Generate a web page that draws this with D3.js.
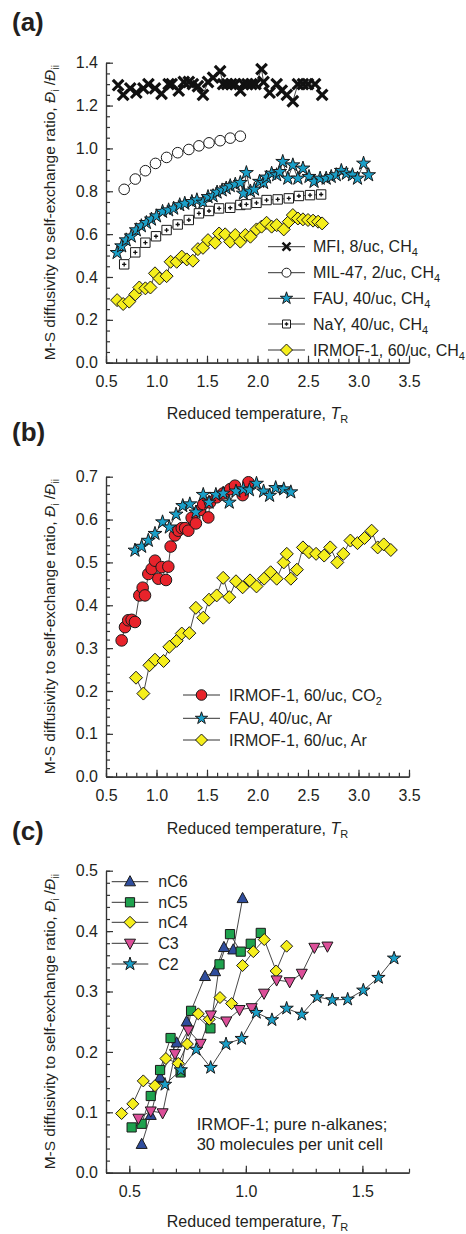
<!DOCTYPE html>
<html><head><meta charset="utf-8">
<script src="https://cdn.jsdelivr.net/npm/d3@7"></script>
<style>
body{margin:0;background:#fff}
svg{display:block}
text{font-family:"Liberation Sans",Arial,sans-serif;fill:#231f20}
</style>
</head><body>
<svg id="chart" width="466" height="1234"></svg>
<script>
// ---------- Panel (a) data ----------
const mfiX = [0.62,0.67,0.74,0.80,0.87,0.92,0.985,1.05,1.12,1.15,1.22,1.27,1.32,1.36,1.41,1.46,1.51,1.56,1.63,1.66,1.70,1.74,1.78,1.83,1.86,1.90,1.94,1.98,2.04,2.06,2.12,2.19,2.24,2.29,2.35,2.40,2.45,2.50,2.57,2.64];
const mfiY = [1.295,1.25,1.28,1.26,1.28,1.30,1.28,1.255,1.30,1.30,1.27,1.31,1.31,1.30,1.29,1.25,1.31,1.33,1.36,1.30,1.30,1.30,1.30,1.27,1.30,1.30,1.30,1.30,1.37,1.31,1.26,1.30,1.27,1.25,1.22,1.30,1.30,1.30,1.30,1.25];
const milX = [0.68,0.79,0.89,0.99,1.10,1.21,1.32,1.42,1.52,1.63,1.73,1.83];
const milY = [0.809,0.857,0.896,0.93,0.958,0.98,0.995,1.012,1.026,1.036,1.048,1.057];
const fauX = [0.61,0.655,0.70,0.75,0.80,0.85,0.90,0.95,1.00,1.06,1.12,1.17,1.23,1.28,1.35,1.40,1.46,1.51,1.56,1.60,1.65,1.69,1.73,1.78,1.83,1.86,1.89,1.93,1.97,2.02,2.06,2.09,2.14,2.19,2.22,2.25,2.30,2.35,2.40,2.45,2.51,2.56,2.62,2.68,2.73,2.78,2.83,2.88,2.94,2.99,3.05,3.10];
const fauY = [0.513,0.544,0.572,0.59,0.619,0.638,0.653,0.669,0.684,0.705,0.712,0.72,0.736,0.743,0.751,0.759,0.748,0.774,0.778,0.795,0.805,0.814,0.825,0.832,0.84,0.79,0.886,0.80,0.809,0.845,0.84,0.865,0.883,0.876,0.891,0.938,0.86,0.922,0.86,0.907,0.868,0.845,0.86,0.86,0.868,0.876,0.896,0.883,0.876,0.86,0.93,0.876];
const nayX = [0.68,0.79,0.89,0.995,1.10,1.21,1.32,1.42,1.52,1.62,1.73,1.83,1.89,1.99,2.09,2.20,2.31,2.41,2.52,2.63];
const nayY = [0.459,0.515,0.56,0.59,0.619,0.645,0.666,0.697,0.708,0.72,0.723,0.736,0.739,0.746,0.759,0.762,0.767,0.778,0.782,0.785];
const irmCH4X = [0.61,0.67,0.73,0.79,0.83,0.89,0.94,0.985,1.03,1.10,1.14,1.20,1.25,1.30,1.36,1.41,1.46,1.51,1.58,1.62,1.68,1.73,1.78,1.83,1.88,1.93,1.99,2.04,2.09,2.14,2.19,2.26,2.31,2.35,2.40,2.45,2.50,2.55,2.60,2.64];
const irmCH4Y = [0.292,0.274,0.285,0.319,0.351,0.347,0.351,0.417,0.393,0.404,0.471,0.471,0.495,0.482,0.476,0.53,0.536,0.572,0.56,0.603,0.599,0.565,0.596,0.565,0.596,0.588,0.622,0.635,0.653,0.635,0.642,0.622,0.658,0.689,0.673,0.669,0.666,0.663,0.658,0.65];

// ---------- Panel (b) data ----------
const co2X = [0.655,0.688,0.72,0.754,0.787,0.83,0.863,0.886,0.919,0.952,0.985,1.018,1.051,1.094,1.117,1.14,1.183,1.216,1.25,1.283,1.315,1.348,1.39,1.43,1.463,1.513,1.53,1.596,1.66,1.73,1.777,1.853,1.91];
const co2Y = [0.318,0.349,0.365,0.366,0.361,0.423,0.441,0.423,0.473,0.485,0.504,0.462,0.489,0.459,0.49,0.537,0.563,0.574,0.58,0.58,0.574,0.604,0.591,0.622,0.636,0.605,0.64,0.652,0.661,0.671,0.679,0.657,0.687];
const fauArX = [0.787,0.853,0.919,0.985,1.06,1.127,1.194,1.26,1.33,1.39,1.463,1.52,1.588,1.66,1.72,1.787,1.86,1.92,1.99,2.06,2.12,2.18,2.26,2.33];
const fauArY = [0.528,0.537,0.551,0.567,0.594,0.582,0.612,0.632,0.636,0.617,0.658,0.64,0.658,0.661,0.64,0.666,0.671,0.669,0.684,0.666,0.656,0.674,0.671,0.664];
const irmArX = [0.797,0.87,0.93,0.985,1.07,1.127,1.20,1.25,1.325,1.39,1.463,1.52,1.596,1.66,1.72,1.787,1.853,1.926,1.99,2.065,2.13,2.19,2.26,2.29,2.33,2.39,2.45,2.51,2.58,2.66,2.72,2.79,2.85,2.92,2.99,3.06,3.13,3.19,3.25,3.32];
const irmArY = [0.231,0.194,0.26,0.273,0.27,0.303,0.317,0.334,0.335,0.394,0.371,0.413,0.423,0.464,0.419,0.456,0.442,0.458,0.444,0.462,0.477,0.462,0.50,0.52,0.462,0.483,0.535,0.524,0.52,0.516,0.535,0.50,0.52,0.551,0.545,0.557,0.574,0.535,0.542,0.529];

// ---------- Panel (c) data ----------
const nc6X = [0.553,0.592,0.632,0.703,0.746,0.825,0.868,0.906,0.946,0.986];
const nc6Y = [0.047,0.095,0.158,0.215,0.25,0.325,0.333,0.373,0.369,0.454];
const nc5X = [0.51,0.553,0.592,0.632,0.677,0.72,0.765,0.848,0.887,0.932,0.978,1.021,1.064];
const nc5Y = [0.075,0.081,0.127,0.17,0.223,0.166,0.268,0.239,0.345,0.395,0.366,0.379,0.397];
const nc4X = [0.467,0.515,0.56,0.61,0.657,0.71,0.749,0.796,0.843,0.889,0.939,0.986,1.032,1.079,1.13,1.175];
const nc4Y = [0.098,0.114,0.152,0.144,0.189,0.181,0.213,0.263,0.254,0.29,0.28,0.343,0.366,0.386,0.334,0.375];
const c3X = [0.539,0.592,0.643,0.696,0.753,0.806,0.85,0.916,0.973,1.025,1.078,1.132,1.188,1.24,1.294,1.35];
const c3Y = [0.09,0.102,0.099,0.197,0.236,0.214,0.261,0.251,0.27,0.273,0.297,0.319,0.316,0.33,0.373,0.375];
const c2X = [0.653,0.721,0.787,0.849,0.915,0.982,1.045,1.112,1.175,1.24,1.306,1.371,1.437,1.504,1.569,1.636];
const c2Y = [0.146,0.17,0.204,0.174,0.213,0.222,0.265,0.253,0.272,0.262,0.291,0.286,0.287,0.302,0.323,0.355];

// ---------- Ticks ----------
const aYTicks = [0.0,0.2,0.4,0.6,0.8,1.0,1.2,1.4];
const abXTicks = [0.5,1.0,1.5,2.0,2.5,3.0,3.5];
const bYTicks = [0.0,0.1,0.2,0.3,0.4,0.5,0.6,0.7];
const cYTicks = [0.0,0.1,0.2,0.3,0.4,0.5];
const cXTicks = [0.5,1.0,1.5];

// ---------- Labels ----------
const panelLabels = ["(a)","(b)","(c)"];
const xTitle = "Reduced temperature, ";
const yTitle = "M-S diffusivity to self-exchange ratio, ";
const noteLines = ["IRMOF-1; pure n-alkanes;","30 molecules per unit cell"];

// ---------- Rendering ----------
const svg = d3.select("#chart");
const FAU_C = "#1a9fc8", YEL = "#f5ee1c", RED = "#e8232b", BLU = "#2f4d9d", GRN = "#1ea24e", PNK = "#dc4f99";

function zip(xs, ys){ return xs.map((v,i)=>[v, ys[i]]); }
function range(a,b,s){ const out=[]; for(let v=a; v<=b+1e-9; v+=s) out.push(+v.toFixed(4)); return out; }

function markerPath(type, s){
  switch(type){
    case "x": return `M${-s},${-s}L${s},${s}M${-s},${s}L${s},${-s}`;
    case "circle": return d3.symbol(d3.symbolCircle, Math.PI*s*s)();
    case "star": return d3.symbol(d3.symbolStar, s*s/0.8908130915)();
    case "square": return `M${-s},${-s}H${s}V${s}H${-s}Z`;
    case "squarePlus": return `M${-s},${-s}H${s}V${s}H${-s}Z`;
    case "diamond": return `M0,${-s}L${s},0L0,${s}L${-s},0Z`;
    case "triUp": return `M0,${-s*1.1}L${s},${s*0.75}L${-s},${s*0.75}Z`;
    case "triDown": return `M0,${s*1.1}L${s},${-s*0.75}L${-s},${-s*0.75}Z`;
  }
}
function drawMarker(g, type, s, fill){
  if(type === "x"){
    g.append("path").attr("d", markerPath("x", s)).attr("stroke","#111").attr("stroke-width", s*0.6).attr("fill","none");
    return;
  }
  g.append("path").attr("d", markerPath(type, s)).attr("fill", fill).attr("stroke","#1a1a1a").attr("stroke-width",1);
  if(type === "squarePlus"){
    const p = s*0.45;
    g.append("path").attr("d",`M${-p},0H${p}M0,${-p}V${p}`).attr("stroke","#111").attr("stroke-width",1.3);
  }
}

function drawPanel(p){
  const g = svg.append("g");
  const x = d3.scaleLinear().domain(p.xDomain).range([106, 409]);
  const y = d3.scaleLinear().domain(p.yDomain).range([p.bottom, p.top]);

  const axX = d3.axisBottom(x).tickValues(p.xTicks).tickFormat(d3.format(".1f")).tickSizeInner(-7).tickSizeOuter(0).tickPadding(13);
  const axXm = d3.axisBottom(x).tickValues(p.xMinor).tickFormat("").tickSizeInner(-4).tickSizeOuter(0);
  const axY = d3.axisLeft(y).tickValues(p.yTicks).tickFormat(d3.format(".1f")).tickSizeInner(-7).tickSizeOuter(0).tickPadding(8);
  const axYm = d3.axisLeft(y).tickValues(p.yMinor).tickFormat("").tickSizeInner(-4).tickSizeOuter(0);
  [ [axXm,"x"], [axX,"x"], [axYm,"y"], [axY,"y"] ].forEach(([ax,k])=>{
    const a = g.append("g").attr("transform", k==="x" ? `translate(0,${p.bottom})` : `translate(106,0)`).call(ax);
    a.selectAll("path,line").attr("stroke","#333").attr("stroke-width",1.2);
    a.selectAll("text").attr("font-size",16).attr("font-family","Liberation Sans, Arial, sans-serif").attr("fill","#231f20");
  });

  const line = d3.line().x(d=>x(d[0])).y(d=>y(d[1]));
  p.series.forEach(s=>{
    g.append("path").attr("d", line(s.pts)).attr("fill","none").attr("stroke","#333").attr("stroke-width",0.9);
  });
  p.series.forEach(s=>{
    s.pts.forEach(d=>{
      const mg = g.append("g").attr("transform",`translate(${x(d[0])},${y(d[1])})`);
      drawMarker(mg, s.marker, s.size, s.fill);
    });
  });

  p.series.forEach((s,i)=>{
    const ly = p.legend.y[i];
    g.append("line").attr("x1",p.legend.x1).attr("x2",p.legend.x2).attr("y1",ly).attr("y2",ly).attr("stroke","#333").attr("stroke-width",1);
    const mg = g.append("g").attr("transform",`translate(${(p.legend.x1+p.legend.x2)/2},${ly})`);
    drawMarker(mg, s.marker, s.legendSize, s.fill);
    const t = g.append("text").attr("x",p.legend.tx).attr("y",ly).attr("dy","0.36em").attr("font-size",16);
    t.append("tspan").text(s.label);
    if(s.sub) t.append("tspan").attr("font-size",11).attr("dy",4).text(s.sub);
  });

  const xt = g.append("text").attr("x",257.5).attr("y",p.xTitleY).attr("text-anchor","middle").attr("font-size",16);
  xt.append("tspan").text(xTitle);
  xt.append("tspan").attr("font-style","italic").text("T");
  xt.append("tspan").attr("font-size",11).attr("dy",4).text("R");

  const yt = g.append("text").attr("transform",`translate(55,${(p.top+p.bottom)/2}) rotate(-90)`).attr("text-anchor","middle").attr("font-size",15.5);
  yt.append("tspan").text(yTitle);
  yt.append("tspan").attr("font-style","italic").text("Đ");
  yt.append("tspan").attr("font-size",10.5).attr("dy",4).text("i");
  yt.append("tspan").attr("dy",-4).text(" /");
  yt.append("tspan").attr("font-style","italic").text("Đ");
  yt.append("tspan").attr("font-size",10.5).attr("dy",4).text("ii");

  g.append("text").attr("x",12).attr("y",p.labelY).attr("font-size",26).attr("font-weight","bold").attr("fill","#000").text(p.label);
  return {g,x,y};
}

drawPanel({
  label: panelLabels[0], labelY: 31,
  xDomain:[0.5,3.5], yDomain:[0,1.4], top:62.7, bottom:362.7,
  xTicks: abXTicks, xMinor: range(0.5,3.5,0.1), yTicks: aYTicks, yMinor: range(0,1.4,0.05),
  xTitleY: 419,
  legend:{x1:268, x2:305, tx:313, y:[246.7,272.7,298.3,324,350]},
  series:[
    {label:"MFI, 8/uc, CH", sub:"4", pts:zip(mfiX,mfiY), marker:"x", size:5.3, legendSize:4, fill:"none"},
    {label:"MIL-47, 2/uc, CH", sub:"4", pts:zip(milX,milY), marker:"circle", size:5.3, legendSize:4.5, fill:"#fff"},
    {label:"FAU, 40/uc, CH", sub:"4", pts:zip(fauX,fauY), marker:"star", size:7.3, legendSize:6.5, fill:FAU_C},
    {label:"NaY, 40/uc, CH", sub:"4", pts:zip(nayX,nayY), marker:"squarePlus", size:4.7, legendSize:4, fill:"#fff"},
    {label:"IRMOF-1, 60/uc, CH", sub:"4", pts:zip(irmCH4X,irmCH4Y), marker:"diamond", size:6.5, legendSize:6, fill:YEL}
  ]
});

drawPanel({
  label: panelLabels[1], labelY: 441,
  xDomain:[0.5,3.5], yDomain:[0,0.7], top:476.7, bottom:776.7,
  xTicks: abXTicks, xMinor: range(0.5,3.5,0.1), yTicks: bYTicks, yMinor: range(0,0.7,0.02),
  xTitleY: 834,
  legend:{x1:183, x2:220, tx:229, y:[695,718.3,740]},
  series:[
    {label:"IRMOF-1, 60/uc, CO", sub:"2", pts:zip(co2X,co2Y), marker:"circle", size:5.8, legendSize:5.3, fill:RED},
    {label:"FAU, 40/uc, Ar", pts:zip(fauArX,fauArY), marker:"star", size:7.3, legendSize:6.5, fill:FAU_C},
    {label:"IRMOF-1, 60/uc, Ar", pts:zip(irmArX,irmArY), marker:"diamond", size:6.5, legendSize:6, fill:YEL}
  ]
});

const pc = drawPanel({
  label: panelLabels[2], labelY: 840,
  xDomain:[0.4,1.7], yDomain:[0,0.5], top:870.7, bottom:1172.7,
  xTicks: cXTicks, xMinor: range(0.4,1.7,0.1), yTicks: cYTicks, yMinor: range(0,0.5,0.02),
  xTitleY: 1227,
  legend:{x1:111.7, x2:148.3, tx:158.3, y:[881.7,902.3,922.3,943.3,964]},
  series:[
    {label:"nC6", pts:zip(nc6X,nc6Y), marker:"triUp", size:5.5, legendSize:5.5, fill:BLU},
    {label:"nC5", pts:zip(nc5X,nc5Y), marker:"square", size:4.6, legendSize:4.6, fill:GRN},
    {label:"nC4", pts:zip(nc4X,nc4Y), marker:"diamond", size:6, legendSize:6, fill:YEL},
    {label:"C3", pts:zip(c3X,c3Y), marker:"triDown", size:5.5, legendSize:5.5, fill:PNK},
    {label:"C2", pts:zip(c2X,c2Y), marker:"star", size:7, legendSize:7, fill:FAU_C}
  ]
});
pc.g.append("text").attr("x",196.7).attr("y",1130).attr("font-size",16.5).text(noteLines[0]);
pc.g.append("text").attr("x",196.7).attr("y",1149.5).attr("font-size",16.5).text(noteLines[1]);
</script>
</body></html>
